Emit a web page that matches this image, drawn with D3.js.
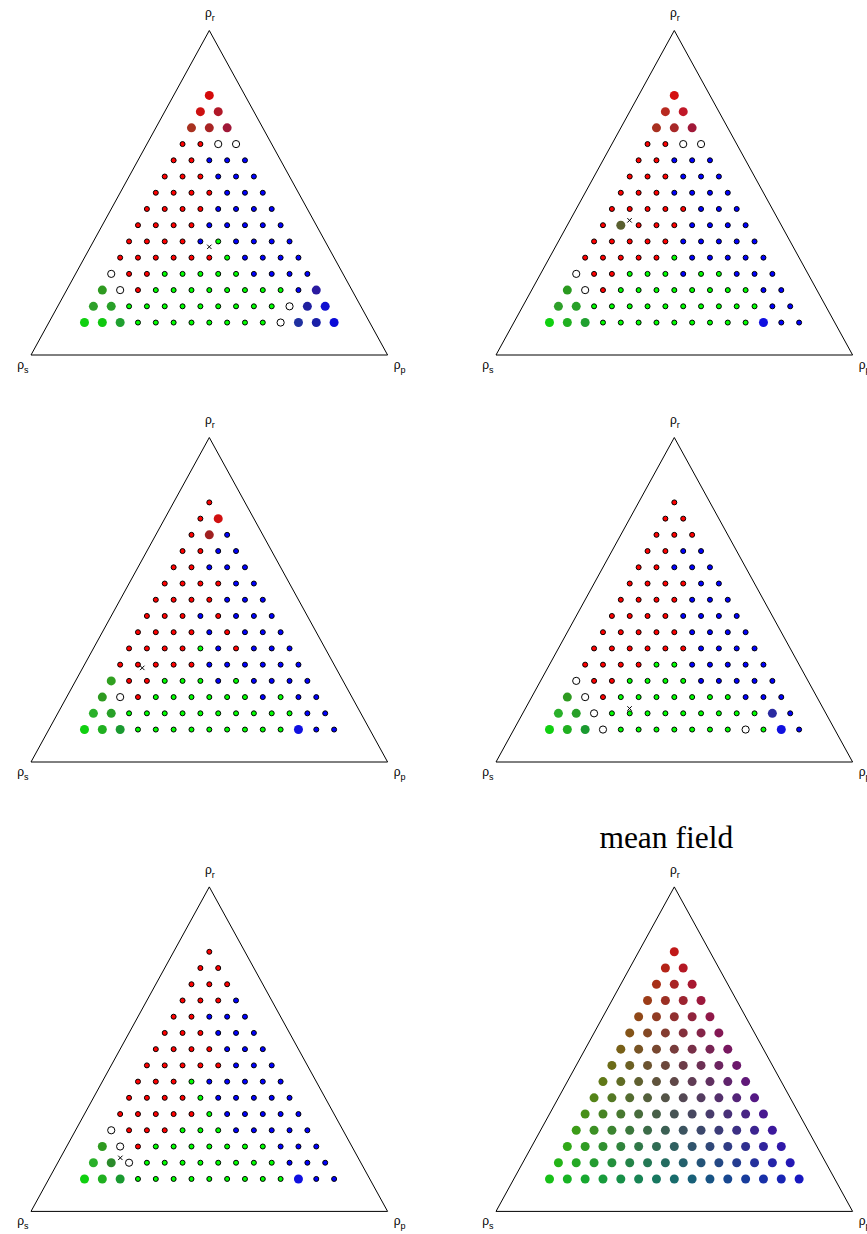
<!DOCTYPE html>
<html>
<head>
<meta charset="utf-8">
<script src="https://cdn.jsdelivr.net/npm/d3@7"></script>
<style>
  html, body { margin: 0; padding: 0; background: #fff; }
  svg { display: block; }
</style>
</head>
<body>
<svg id="chart" width="867" height="1234"></svg>
<script>
// Ternary grid levels: every coordinate runs 0.10 ... 0.80 in steps of 0.05
const rhoLevels = [0.10, 0.15, 0.20, 0.25, 0.30, 0.35, 0.40, 0.45, 0.50, 0.55, 0.60, 0.65, 0.70, 0.75, 0.80];

// Corner labels (rho_r top, rho_s bottom-left, rho_p bottom-right)
const cornerNames = ["r", "s", "p"];

// Outcome per grid point, rows top (rho_r = 0.80) to bottom (rho_r = 0.10),
// left to right by increasing rho_p.
// r/s/p = single survivor, o = coexistence, M = mixed state (colour list below)
const outcomes1 = [
  "M", "MM", "MMM", "rroo", "rrppp", "rrrppp", "rrrrppp", "rrrrpppp",
  "rrrrppppp", "rrrrpspppp", "rrrrrrspppp", "orrssssspppp",
  "MorsssssssspM", "MMsssssssssoMM", "MMMssssssssoMMM"
];
const mixed1 = ["#d40a0a", "#cc1010", "#b01828", "#a83220", "#a82424", "#a01838",
  "#2e9a20", "#2a1aa0", "#2ea02a", "#28a028", "#2020a0", "#1010d0",
  "#10d010", "#10c810", "#20a030", "#2030a0", "#1a20a8", "#0a0ad8"];

const outcomes2 = [
  "M", "MM", "MMM", "rroo", "rrppp", "rrrppp", "rrrpppp", "rrrrrppp",
  "rMrrrpppp", "rrrrrppppp", "rrrrrsppppp", "orrssspssppp",
  "Morsssssssspp", "MMsssssssssspp", "MMMsssssssssMpp"
];
const mixed2 = ["#d41010", "#b82a20", "#c01828", "#a83020", "#a82828", "#a01838",
  "#5a6030", "#2a9a20", "#2ea02a", "#28a028",
  "#10d010", "#20b020", "#20a030", "#1010e0"];

const outcomes3 = [
  "r", "rM", "rMp", "rrpp", "rrppp", "rrrrpp", "rrrrppp", "rrrprppp",
  "rrrrprppp", "rrrrsprppp", "rrrrrpppppp", "Mrrssspspppp",
  "Morsssssspspp", "MMsssssssssspp", "MMMsssssssssMpp"
];
const mixed3 = ["#d01010", "#a02020", "#30a020", "#2e9a20", "#2ab02a", "#28a028",
  "#10d010", "#20b020", "#1a9a30", "#1010e0"];

const outcomes4 = [
  "r", "rr", "rrr", "rrpp", "rrppp", "rrrrpp", "rrrrppp", "rrrrpppp",
  "rrrrrpppp", "rrrrrrpppp", "rrrrssppppp", "orrssssppppp",
  "Morsssssssppp", "MMosssssssssMp", "MMMosssssssosMp"
];
const mixed4 = ["#2e9a20", "#2ab02a", "#28a028", "#2a2aa0",
  "#10d010", "#20b020", "#1a9a30", "#1010e0"];

const outcomes5 = [
  "r", "rr", "rrr", "rrrp", "rrppp", "rrrppp", "rrrrppp", "rrrrrppp",
  "rrrsppppp", "rrrrsppppp", "rrrrrsppppp", "orrrsssppppp",
  "Morsssssssppp", "MMossssssssppp", "MMMsssssssssMpp"
];
const mixed5 = ["#2e9a20", "#2ab02a", "#2a8a2a",
  "#10d010", "#20b020", "#1a9a30", "#1010e0"];

// Starting composition marker (rho_r, rho_s, rho_p) for the simulation panels
const startPoints = [
  [1 / 3, 1 / 3, 1 / 3],
  [0.415, 0.418, 0.167],
  [0.29, 0.543, 0.167],
  [0.165, 0.543, 0.292],
  [0.165, 0.667, 0.168]
];

const panelTitles = ["", "", "", "", "", "mean field"];

// Colours of the three strategies
const speciesColor = { r: "#ff0000", s: "#00ff00", p: "#0000ff" };

// ----------------------------------------------------------------------------
const svg = d3.select("#chart");
svg.append("rect").attr("width", 867).attr("height", 1234).attr("fill", "#fff");

const colOffsets = [0, 465];
const rowOffsets = [0, 407, 856.4];

// Panel frame (first panel); others are shifted copies
const apexY = 30.5, baseY = 355, leftX = 31, rightX = 387.6;

// Mean-field panel colour: channel mix of the three densities
function mixColor(r, s, p) {
  const k = 0.94;
  return d3.rgb(255 * r * k, 255 * s * k, 255 * p * k).formatHex();
}

function buildPoints(rows, mixed) {
  const pts = [];
  let m = 0;
  rows.forEach((row, i) => {
    const r = rhoLevels[rhoLevels.length - 1 - i];
    for (let j = 0; j < row.length; j++) {
      const p = rhoLevels[j];
      const s = 1 - r - p;
      const code = row[j];
      const d = { r, s, p, code };
      if (code === "M") d.color = mixed ? mixed[m++] : mixColor(r, s, p);
      pts.push(d);
    }
  });
  return pts;
}

const meanRows = rhoLevels.map((_, i) => "M".repeat(i + 1));

const panels = [
  { rows: outcomes1, mixed: mixed1, start: startPoints[0] },
  { rows: outcomes2, mixed: mixed2, start: startPoints[1] },
  { rows: outcomes3, mixed: mixed3, start: startPoints[2] },
  { rows: outcomes4, mixed: mixed4, start: startPoints[3] },
  { rows: outcomes5, mixed: mixed5, start: startPoints[4] },
  { rows: meanRows, mixed: null, start: null }
];

panels.forEach((panel, idx) => {
  const dx = colOffsets[idx % 2];
  const dy = rowOffsets[Math.floor(idx / 2)];

  // x from (rho_p + rho_r / 2), y from rho_r
  const x = d3.scaleLinear().domain([0, 1]).range([leftX + dx, rightX + dx]);
  const y = d3.scaleLinear().domain([0, 1]).range([baseY + dy, apexY + dy]);
  const px = d => x(d.p + d.r / 2);
  const py = d => y(d.r);

  const g = svg.append("g");

  // triangle outline
  const corners = [{ r: 1, s: 0, p: 0 }, { r: 0, s: 1, p: 0 }, { r: 0, s: 0, p: 1 }];
  g.append("path")
    .attr("d", d3.line().x(px).y(py)(corners) + "Z")
    .attr("fill", "none")
    .attr("stroke", "#000")
    .attr("stroke-width", 1);

  // corner labels
  const labelOffsets = [[0.5, -13.2], [-8.2, 13.5], [12.1, 13.5]];
  corners.forEach((c, k) => {
    const t = g.append("text")
      .attr("x", px(c) + labelOffsets[k][0])
      .attr("y", py(c) + labelOffsets[k][1])
      .attr("text-anchor", "middle")
      .attr("font-family", "'Liberation Sans', Arial, sans-serif")
      .attr("font-size", 12)
      .attr("fill", "#000");
    t.append("tspan").text("ρ");
    t.append("tspan").attr("font-size", 9).attr("dy", 4).text(cornerNames[k]);
  });

  // title
  if (panelTitles[idx]) {
    g.append("text")
      .attr("x", x(0.5) - 8)
      .attr("y", y(1) - 38.6)
      .attr("text-anchor", "middle")
      .attr("font-family", "'Liberation Serif', 'Times New Roman', serif")
      .attr("font-size", 31.5)
      .attr("fill", "#000")
      .text(panelTitles[idx]);
  }

  const pts = buildPoints(panel.rows, panel.mixed);

  // mixed states: larger filled dots without outline
  g.selectAll("circle.mixed")
    .data(pts.filter(d => d.code === "M"))
    .join("circle")
    .attr("class", "mixed")
    .attr("cx", px).attr("cy", py)
    .attr("r", 4.5)
    .attr("fill", d => d.color);

  // coexistence: open circles
  g.selectAll("circle.coex")
    .data(pts.filter(d => d.code === "o"))
    .join("circle")
    .attr("class", "coex")
    .attr("cx", px).attr("cy", py)
    .attr("r", 3.6)
    .attr("fill", "#fff")
    .attr("stroke", "#000")
    .attr("stroke-width", 1);

  // single survivor: small outlined dots
  g.selectAll("circle.win")
    .data(pts.filter(d => speciesColor[d.code]))
    .join("circle")
    .attr("class", "win")
    .attr("cx", px).attr("cy", py)
    .attr("r", 2.5)
    .attr("fill", d => speciesColor[d.code])
    .attr("stroke", "#000")
    .attr("stroke-width", 1);

  // starting composition marker
  if (panel.start) {
    const sp = { r: panel.start[0], s: panel.start[1], p: panel.start[2] };
    const cx = px(sp), cy = py(sp), h = 2.2;
    g.append("path")
      .attr("d", `M${cx - h},${cy - h}L${cx + h},${cy + h}M${cx - h},${cy + h}L${cx + h},${cy - h}`)
      .attr("stroke", "#000")
      .attr("stroke-width", 1)
      .attr("fill", "none");
  }
});
</script>
</body>
</html>
